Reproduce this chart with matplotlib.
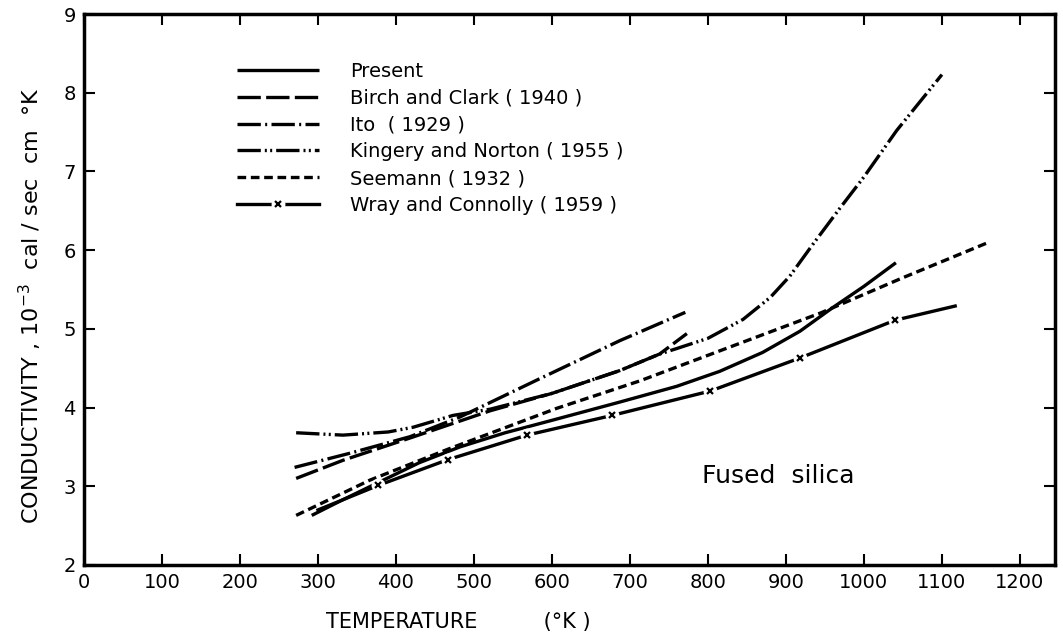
import matplotlib
matplotlib.use('Agg')
import matplotlib.pyplot as plt
from matplotlib.legend_handler import HandlerTuple

plt.rcParams['font.family'] = ['DejaVu Sans']

# data (T in deg K, conductivity in 1e-3 cal/sec cm K)
present_t = [292, 330, 380, 430, 482, 540, 597, 687, 760, 815, 870, 918, 960, 1000, 1041]
present_k = [2.63, 2.82, 3.06, 3.30, 3.50, 3.68, 3.83, 4.07, 4.27, 4.46, 4.70, 4.97, 5.27, 5.54, 5.84]

birch_t = [272, 332, 420, 521, 600, 687, 738, 773]
birch_k = [3.10, 3.33, 3.62, 3.96, 4.18, 4.47, 4.68, 4.94]

ito_t = [270, 341, 418, 482, 585, 687, 771]
ito_k = [3.24, 3.42, 3.63, 3.88, 4.37, 4.85, 5.21]

kingery_t = [272, 332, 390, 422, 473, 521, 600, 687, 738, 760, 800, 845, 880, 905,
             935, 969, 1000, 1042, 1100]
kingery_k = [3.68, 3.65, 3.69, 3.75, 3.90, 3.98, 4.18, 4.47, 4.68, 4.75, 4.88, 5.12,
             5.40, 5.67, 6.08, 6.53, 6.93, 7.52, 8.23]

seemann_t = [272, 367, 469, 606, 713, 815, 944, 1050, 1160]
seemann_k = [2.63, 3.08, 3.48, 3.99, 4.34, 4.72, 5.20, 5.65, 6.10]

wray_t = [300, 377, 467, 568, 677, 803, 918, 1040, 1117]
wray_k = [2.70, 3.01, 3.34, 3.65, 3.90, 4.21, 4.63, 5.11, 5.29]
wray_marks = [1, 2, 3, 4, 5, 6, 7]

labels = ['Present', 'Birch and Clark ( 1940 )', 'Ito  ( 1929 )',
          'Kingery and Norton ( 1955 )', 'Seemann ( 1932 )',
          'Wray and Connolly ( 1959 )']

fig = plt.figure(figsize=(10.63, 6.41), dpi=100)
ax = fig.add_axes([84 / 1063, 76 / 641, 971 / 1063, 551 / 641])

lw = 2.4
l1, = ax.plot(present_t, present_k, color='black', lw=lw, solid_capstyle='butt')
l2, = ax.plot(birch_t, birch_k, color='black', lw=lw, dashes=(7, 1.6))
l3, = ax.plot(ito_t, ito_k, color='black', lw=lw, dashes=(7, 1.3, 0.6, 1.3))
l4, = ax.plot(kingery_t, kingery_k, color='black', lw=lw,
              dashes=(7, 1.2, 0.6, 1.0, 0.6, 1.2))
l5, = ax.plot(seemann_t, seemann_k, color='black', lw=lw, dashes=(2.6, 1.4))
l6, = ax.plot(wray_t, wray_k, color='black', lw=lw)
gap, = ax.plot([wray_t[i] for i in wray_marks], [wray_k[i] for i in wray_marks],
               ls='none', marker='o', ms=10, mfc='white', mec='none')
xm, = ax.plot([wray_t[i] for i in wray_marks], [wray_k[i] for i in wray_marks],
              ls='none', marker='x', ms=5, mec='black', mew=1.6)

ax.set_xlim(0, 1245)
ax.set_ylim(2, 9)
ax.set_xticks(range(0, 1300, 100))
ax.set_yticks(range(2, 10))
ax.tick_params(direction='in', length=8, width=1.5, top=True, right=True,
               labelsize=14, pad=6)
for s in ax.spines.values():
    s.set_linewidth(2.5)

ax.set_xlabel('TEMPERATURE          (°K )', fontsize=15)
ax.xaxis.set_label_coords(0.385, -0.085)
ax.set_ylabel('CONDUCTIVITY , 10$^{-3}$  cal / sec  cm  °K', fontsize=16)
ax.yaxis.set_label_coords(-0.041, 0.47)

ax.text(792, 3.04, 'Fused  silica', fontsize=18, va='baseline')

leg = ax.legend([l1, l2, l3, l4, l5, (l6, gap, xm)], labels,
                handler_map={tuple: HandlerTuple(ndivide=1)},
                loc='upper left', bbox_to_anchor=(153 / 971, 0.913),
                frameon=False, fontsize=14, handlelength=4.2, handletextpad=1.6,
                labelspacing=0.40, borderpad=0, borderaxespad=0)

fig.savefig('out.png', dpi=100)
